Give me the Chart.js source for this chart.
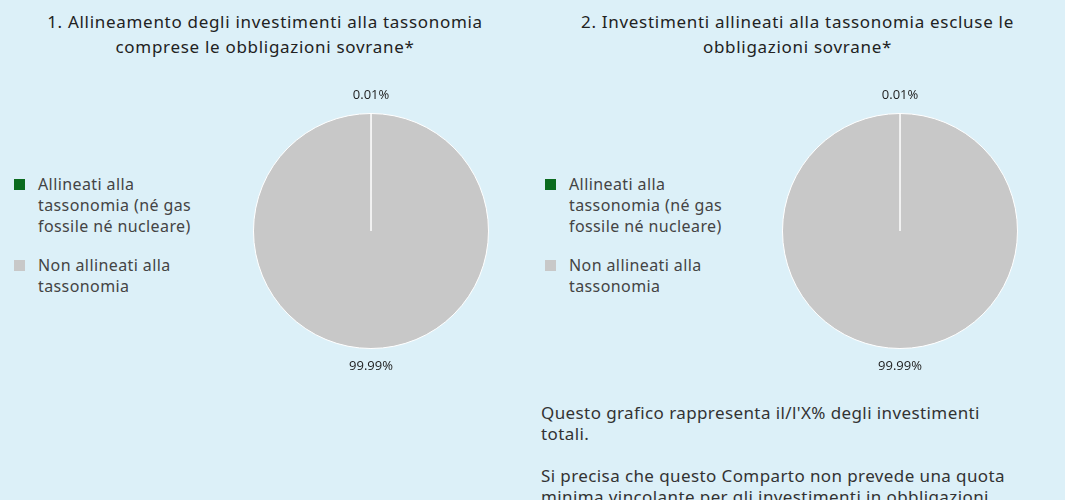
<!DOCTYPE html>
<html>
<head>
<meta charset="utf-8">
<script src="https://cdn.jsdelivr.net/npm/chart.js@4"></script>
<style>
  html, body { margin: 0; padding: 0; }
  body { width: 1065px; height: 500px; background: #dcf0f8; position: relative; overflow: hidden;
         font-family: "Noto Sans", sans-serif; color: #222; }
  .title { position: absolute; top: 9px; font-size: 17px; letter-spacing: 0.7px; line-height: 25px; text-align: center; }
  .legend { position: absolute; left: 14px; top: 174px; font-size: 16px; letter-spacing: 0.4px; line-height: 21px; color: #444; }
  .legend .item { position: relative; padding-left: 24px; margin-bottom: 18px; width: 190px; }
  .legend .box { position: absolute; left: 0; top: 5px; width: 11px; height: 11px; }
  .note { position: absolute; left: 541px; top: 402px; width: 524px; font-size: 17px; letter-spacing: 0.4px; line-height: 21px; color: #333; }
  .note p { margin: 0 0 21px 0; }
  canvas { position: absolute; }
</style>
</head>
<body>
<div class="title" style="left:0;width:530px;">1. Allineamento degli investimenti alla tassonomia<br>comprese le obbligazioni sovrane*</div>
<div class="title" style="left:530px;width:535px;">2. Investimenti allineati alla tassonomia escluse le<br>obbligazioni sovrane*</div>

<div class="legend" id="legend1"></div>
<div class="legend" id="legend2" style="left:545px;"></div>

<div style="position:absolute;left:221px;top:81px;width:300px;height:300px;"><canvas id="pie1"></canvas></div>
<div style="position:absolute;left:750px;top:81px;width:300px;height:300px;"><canvas id="pie2"></canvas></div>

<div class="note">
  <p>Questo grafico rappresenta il/l'X% degli investimenti<br>totali.</p>
  <p>Si precisa che questo Comparto non prevede una quota<br>minima vincolante per gli investimenti in obbligazioni</p>
</div>

<script>
const categories = ['Allineati alla tassonomia (né gas fossile né nucleare)', 'Non allineati alla tassonomia'];
const legendLines = [['Allineati alla', 'tassonomia (né gas', 'fossile né nucleare)'], ['Non allineati alla', 'tassonomia']];
const colors = ['#0b6b1f', '#c8c8c8'];
const withSovereign = [0.01, 99.99];
const withoutSovereign = [0.01, 99.99];
const valueLabels = ['0.01%', '99.99%'];

['legend1', 'legend2'].forEach(id => {
    const el = document.getElementById(id);
    legendLines.forEach((lines, i) => {
        const item = document.createElement('div');
        item.className = 'item';
        item.innerHTML = '<span class="box" style="background:' + colors[i] + '"></span>' + lines.join('<br>');
        el.appendChild(item);
    });
});

// etichette fuori dalla torta
const outerLabels = {
    id: 'outerLabels',
    afterDatasetsDraw(chart) {
        const ctx = chart.ctx;
        const meta = chart.getDatasetMeta(0);
        ctx.save();
        ctx.font = '13px "Open Sans", sans-serif';
        ctx.fillStyle = '#222';
        ctx.textAlign = 'center';
        ctx.textBaseline = 'middle';
        meta.data.forEach((arc, i) => {
            const mid = (arc.startAngle + arc.endAngle) / 2;
            const r = arc.outerRadius + 18;
            ctx.fillText(valueLabels[i], arc.x + Math.cos(mid) * r, arc.y + Math.sin(mid) * r);
        });
        ctx.restore();
    }
};

function makePie(id, values) {
    return new Chart(document.getElementById(id), {
        type: 'pie',
        data: {
            labels: categories,
            datasets: [{
                data: values,
                backgroundColor: colors,
                borderColor: '#ffffff',
                borderWidth: 1
            }]
        },
        options: {
            responsive: true,
            maintainAspectRatio: false,
            animation: false,
            layout: { padding: 32 },
            plugins: {
                legend: { display: false },
                tooltip: { enabled: false }
            }
        },
        plugins: [outerLabels]
    });
}

makePie('pie1', withSovereign);
makePie('pie2', withoutSovereign);
</script>
</body>
</html>
